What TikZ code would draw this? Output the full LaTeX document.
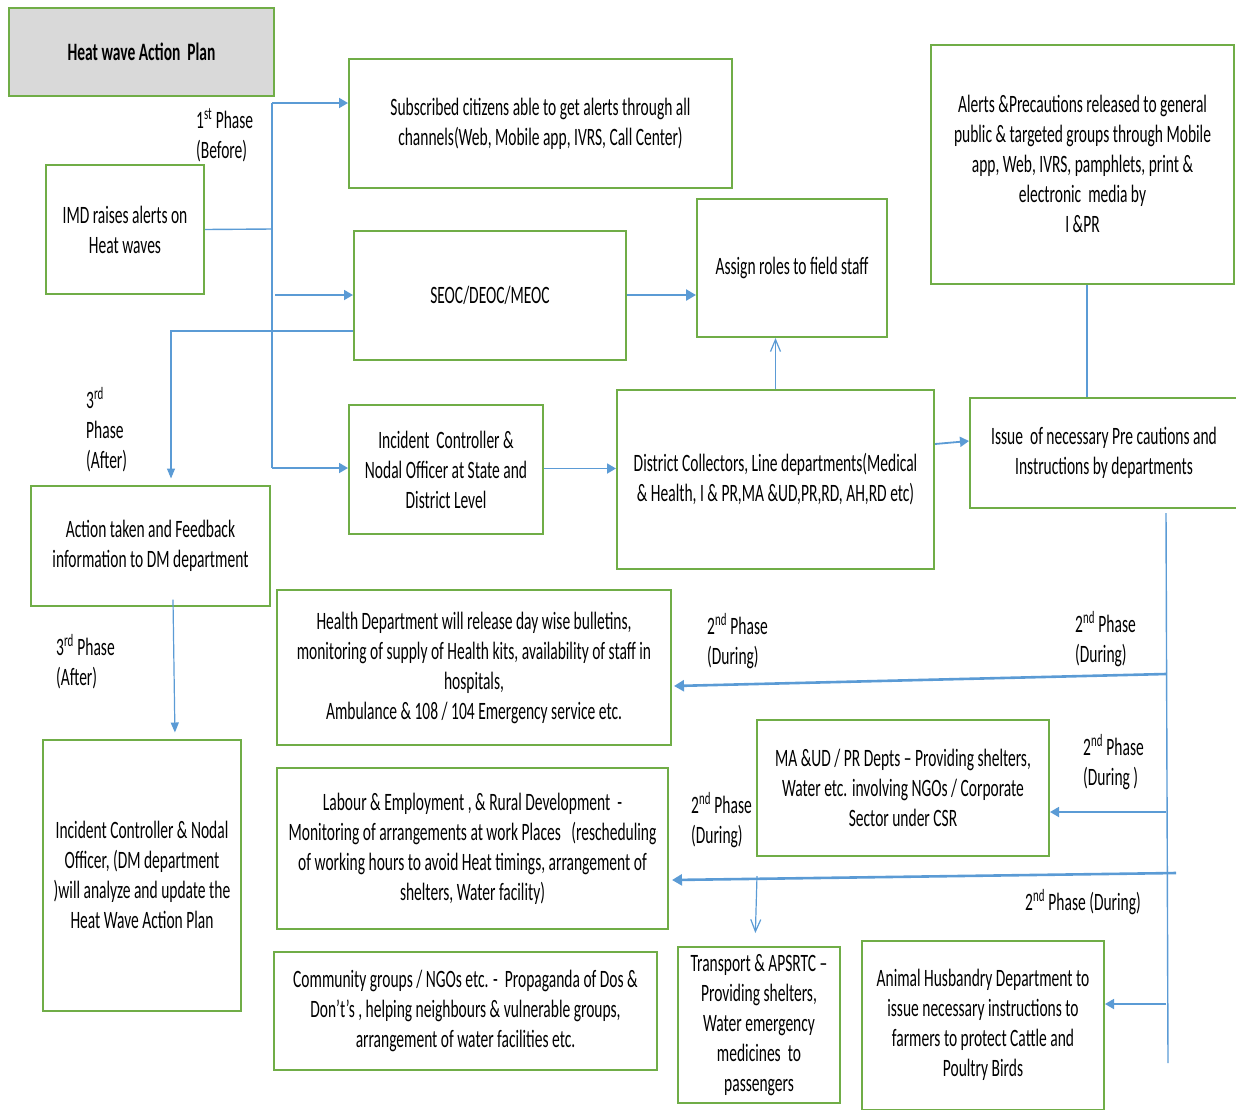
\documentclass[tikz,border=0pt]{standalone}
\usepackage{fontspec}
\setmainfont{Carlito}[FakeStretch=0.62]
\usetikzlibrary{arrows.meta}
\definecolor{boxgreen}{RGB}{112,173,71}
\definecolor{linkblue}{RGB}{91,155,213}
\definecolor{titlegrey}{RGB}{217,217,217}
\def\planfont{\fontsize{25}{30}\selectfont}
\tikzset{
	plan/.style 2 args={draw=boxgreen, line width=2pt, align=center, inner sep=0pt,
		minimum width=#1, minimum height=#2, font=\planfont},
	phase/.style={align=left, inner sep=0pt, anchor=west, font=\planfont},
	bus/.style={draw=linkblue, line width=1.4pt},
	link/.style={draw=linkblue, line width=1.8pt, -{Triangle[width=10pt,length=9pt]}},
	linkthick/.style={draw=linkblue, line width=2.6pt, -{Triangle[width=11pt,length=10pt]}},
	linkthin/.style={draw=linkblue, line width=1.2pt, -{Triangle[width=8pt,length=10pt]}},
	linkopen/.style={draw=linkblue, line width=1.2pt, -{Straight Barb[width=10pt,length=12pt]}},
}

\begin{document}
\begin{tikzpicture}[x=1pt,y=-1pt]
		%%%%% START %%%%%
		\useasboundingbox (0,0) rectangle (1236,1109);
		
		% boxes
		\node[plan={265pt}{88pt}, fill=titlegrey, font=\planfont\bfseries] (title) at (141.5,52) {Heat wave Action\ \ Plan};
		\node[plan={383pt}{129pt}] (subs) at (540.5,123.5) {Subscribed citizens able to get alerts through all\\channels(Web, Mobile app, IVRS, Call Center)};
		\node[plan={158pt}{129pt}] (imd) at (125,229.5) {IMD raises alerts on\\Heat waves};
		\node[plan={272pt}{129pt}] (seoc) at (490,295) {SEOC/DEOC/MEOC};
		\node[plan={190pt}{138pt}] (assign) at (792,268) {Assign roles to field staff};
		\node[plan={303pt}{239pt}] (alerts) at (1082.5,164) {Alerts \&Precautions released to general\\public \& targeted groups through Mobile\\app, Web, IVRS, pamphlets, print \&\\electronic\ \ media by\\I \&PR};
		\node[plan={194pt}{129pt}] (inc) at (446,469.5) {Incident\ \ Controller \&\\Nodal Officer at State and\\District Level};
		\node[plan={317pt}{179pt}] (dist) at (775.5,479) {District Collectors, Line departments(Medical\\\& Health, I \& PR,MA \&UD,PR,RD, AH,RD etc)};
		\node[plan={268pt}{110pt}] (issue) at (1104,453) {Issue\ \ of necessary Pre cautions and\\Instructions by departments};
		\node[plan={239pt}{120pt}] (action) at (150.5,545.5) {Action taken and Feedback\\information to DM department};
		\node[plan={198pt}{271pt}] (dm) at (142,875) {Incident Controller \& Nodal\\Officer, (DM department\\)will analyze and update the\\Heat Wave Action Plan};
		\node[plan={394pt}{155pt}] (health) at (474,667.5) {Health Department will release day wise bulletins,\\monitoring of supply of Health kits, availability of staff in\\hospitals,\\Ambulance \& 108 / 104 Emergency service etc.};
		\node[plan={292pt}{136pt}] (maud) at (903,788) {MA \&UD / PR Depts -- Providing shelters,\\Water etc. involving NGOs / Corporate\\Sector under CSR};
		\node[plan={391pt}{161pt}] (labour) at (472.5,848.5) {Labour \& Employment , \& Rural Development\ \ -\\Monitoring of arrangements at work Places\ \ \ (rescheduling\\of working hours to avoid Heat timings, arrangement of\\shelters, Water facility)};
		\node[plan={162pt}{156pt}] (trans) at (759,1025) {Transport \& APSRTC --\\Providing shelters,\\Water emergency\\medicines\ \ to\\passengers};
		\node[plan={242pt}{169pt}] (animal) at (983,1025) {Animal Husbandry Department to\\issue necessary instructions to\\farmers to protect Cattle and\\Poultry Birds};
		\node[plan={383pt}{118pt}] (comm) at (465.5,1011) {Community groups / NGOs etc. -\ \ Propaganda of Dos \&\\Don't's , helping neighbours \& vulnerable groups,\\arrangement of water facilities etc.};
		
		% phase labels
		\node[phase] (ph1) at (196,135) {1\textsuperscript{st} Phase\\(Before)};
		\node[phase] (ph3a) at (86,430) {3\textsuperscript{rd}\\Phase\\(After)};
		\node[phase] (ph3b) at (56,662) {3\textsuperscript{rd} Phase\\(After)};
		\node[phase] (ph2a) at (707,641) {2\textsuperscript{nd} Phase\\(During)};
		\node[phase] (ph2b) at (1075,639) {2\textsuperscript{nd} Phase\\(During)};
		\node[phase] (ph2c) at (1083,762) {2\textsuperscript{nd} Phase\\(During )};
		\node[phase] (ph2d) at (691,820) {2\textsuperscript{nd} Phase\\(During)};
		\node[phase] (ph2e) at (1025,902) {2\textsuperscript{nd} Phase (During)};
		
		% first phase fork
		\coordinate (fork) at (272,229);
		\coordinate (forktop) at (272,103);
		\coordinate (forkbot) at (272,468);
		\draw[bus] (imd.east) -- (fork);
		\draw[bus, line width=1.1pt] (forktop) -- (forkbot);
		\draw[link] (forktop) -- (forktop -| subs.west);
		\draw[link] ([xshift=3pt]fork |- seoc.west) -- (seoc.west);
		\draw[link] (forkbot) -- (forkbot -| inc.west);
		
		\draw[linkthick] (seoc.east) -- (seoc.east -| assign.west);
		\draw[link] ([yshift=1pt]inc.east) -- ([yshift=1pt]inc.east -| dist.west);
		\draw[linkopen] (dist.north) -- (dist.north |- assign.south);
		\draw[link] ([yshift=35pt]dist.east) -- ([yshift=12pt]issue.west);
		\draw[bus, line width=1.1pt] ([xshift=4.5pt]alerts.south) -- ([xshift=4.5pt]alerts.south |- issue.north);
		
		% third phase
		\coordinate (backturn) at (171,331);
		\draw[linkthin, shorten >=6pt] (seoc.west |- backturn) -- (backturn) -- (backturn |- action.north);
		\draw[linkthin, shorten >=6pt] ([xshift=22.5pt,yshift=7pt]action.south) -- ([xshift=33pt]dm.north);
		
		% second phase bus
		\coordinate (bustop) at (1166,513);
		\coordinate (busbot) at (1168,1063);
		\draw[bus] (bustop) -- (busbot);
		\coordinate (tapa) at (1166,674);
		\coordinate (tapb) at (1166,812);
		\coordinate (tapc) at (1176,873);
		\coordinate (tapd) at (1166,1004);
		\coordinate (drop) at (757,876);
		\draw[linkthick] (tapa) -- ([xshift=2pt,yshift=-18.5pt]health.east);
		\draw[link] (tapb) -- (tapb -| maud.east);
		\draw[linkthick] (tapc) -- ([xshift=3pt,yshift=-31.5pt]labour.east);
		\draw[linkopen, shorten >=13pt] (drop) -- ([xshift=-4pt]trans.north);
		\draw[link] (tapd) -- (tapd -| animal.east);
		
		%%%%% END %%%%%
\end{tikzpicture}
\end{document}
